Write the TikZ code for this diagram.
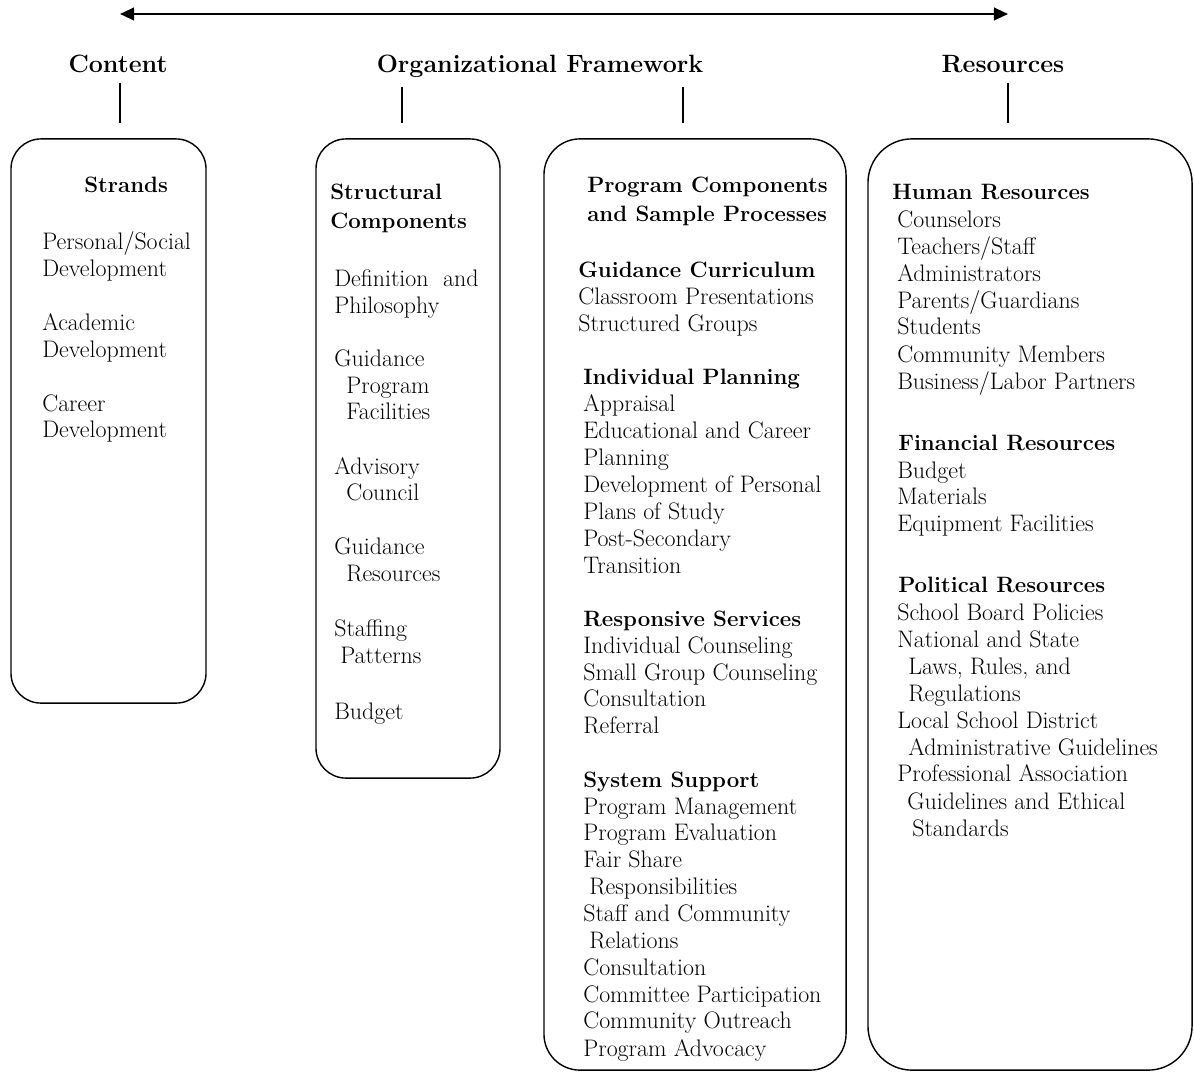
\documentclass[tikz,border=0pt]{standalone}
\usepackage{tikz}
\usetikzlibrary{arrows.meta}

\tikzset{
  top/.style={font=\fontsize{17.8}{21}\selectfont\bfseries, anchor=base, inner sep=0pt},
  hdr/.style={font=\fontsize{15.8}{19}\selectfont\bfseries, anchor=base west, inner sep=0pt},
  itm/.style={font=\fontsize{17}{20}\selectfont, anchor=base west, inner sep=0pt},
  panel/.style={draw, line width=1pt, inner sep=0pt},
}

\begin{document}
\begin{tikzpicture}[x=0.025cm, y=-0.025cm]
\useasboundingbox (0,0) rectangle (1194,1073);

% scale arrow
\coordinate (arrL) at (120,14);
\coordinate (arrR) at (1008,14);
\draw[line width=1.6pt, {Triangle[length=10pt,width=9pt]}-{Triangle[length=10pt,width=9pt]}] (arrL) -- (arrR);

% column titles
\node[top] (content) at (118,72) {Content};
\node[top] (orgfw) at (540,72) {Organizational Framework};
\node[top] (resources) at (1003,72) {Resources};

% panels
\node[panel, rounded corners=0.75cm, minimum width=4.875cm, minimum height=14.1cm] (strandsbox) at (108.5,421) {};
\node[panel, rounded corners=0.75cm, minimum width=4.6cm, minimum height=15.975cm] (structbox) at (408,458.5) {};
\node[panel, rounded corners=0.9cm, minimum width=7.55cm, minimum height=23.275cm] (progbox) at (695,604.5) {};
\node[panel, rounded corners=1.1cm, minimum width=8.1cm, minimum height=23.275cm] (resbox) at (1030,604.5) {};

% ticks
\coordinate (tk1) at (120,123);
\coordinate (tk2) at (402,123);
\coordinate (tk3) at (683,123);
\coordinate (tk4) at (1008,123);
\draw[line width=0.9pt] (content.south -| tk1) ++(0,10) -- (tk1);
\draw[line width=0.9pt] (orgfw.south -| tk2) ++(0,10) -- (tk2);
\draw[line width=0.9pt] (orgfw.south -| tk3) ++(0,10) -- (tk3);
\draw[line width=0.9pt] (resources.south -| tk4) ++(0,10) -- (tk4);

% strands
\node[hdr] (strands) at (84,192) {Strands};
\foreach \x/\y/\t [count=\i] in {
  42/249/{Personal/Social}, 42/276/Development,
  42/330/Academic, 42/357/Development,
  42/411/Career, 42/437/Development}
  \node[itm] (st\i) at (\x,\y) {\t};

% structural components
\node[hdr] (struct1) at (330,199) {Structural};
\node[hdr] (struct2) at (330,228) {Components};
\foreach \x/\y/\t [count=\i] in {
  334/286/{Definition\ \ and}, 334/313/Philosophy,
  334/366/Guidance, 346/393/Program, 346/419/Facilities,
  334/474/Advisory, 346/500/Council,
  334/554/Guidance, 346/581/Resources,
  334/636/Staffing, 340/663/Patterns,
  334/719/Budget}
  \node[itm] (sc\i) at (\x,\y) {\t};

% program components
\node[hdr] (prog1) at (587,192) {Program Components};
\node[hdr] (prog2) at (587,221) {and Sample Processes};
\node[hdr] (gcur) at (578,277) {Guidance Curriculum};
\node[hdr] (iplan) at (583,384) {Individual Planning};
\node[hdr] (rserv) at (583,626) {Responsive Services};
\node[hdr] (ssupp) at (583,787) {System Support};
\foreach \x/\y/\t [count=\i] in {
  578/304/Classroom Presentations, 578/331/Structured Groups,
  583/411/Appraisal, 583/438/Educational and Career, 583/465/Planning,
  583/492/Development of Personal, 583/519/Plans of Study,
  583/546/Post-Secondary, 583/573/Transition,
  583/653/Individual Counseling, 583/680/Small Group Counseling,
  583/706/Consultation, 583/733/Referral,
  583/814/Program Management, 583/840/Program Evaluation,
  583/867/Fair Share, 589/894/Responsibilities,
  583/921/Staff and Community, 589/948/Relations,
  583/975/Consultation, 583/1002/Committee Participation,
  583/1028/Community Outreach, 583/1056/Program Advocacy}
  \node[itm] (pc\i) at (\x,\y) {\t};

% resources
\node[hdr] (human) at (892,199) {Human Resources};
\node[hdr] (finan) at (898,450) {Financial Resources};
\node[hdr] (polit) at (898,592) {Political Resources};
\foreach \x/\y/\t [count=\i] in {
  897/227/Counselors, 897/254/{Teachers/Staff}, 897/281/Administrators,
  897/308/{Parents/Guardians}, 897/334/Students, 897/362/Community Members,
  897/389/{Business/Labor Partners},
  897/478/Budget, 897/504/Materials, 897/531/Equipment Facilities,
  897/620/School Board Policies, 897/647/National and State,
  908/674/{Laws, Rules, and}, 908/701/Regulations,
  897/728/Local School District, 908/755/Administrative Guidelines,
  897/781/Professional Association, 907/809/Guidelines and Ethical,
  912/836/Standards}
  \node[itm] (rs\i) at (\x,\y) {\t};

\end{tikzpicture}
\end{document}
